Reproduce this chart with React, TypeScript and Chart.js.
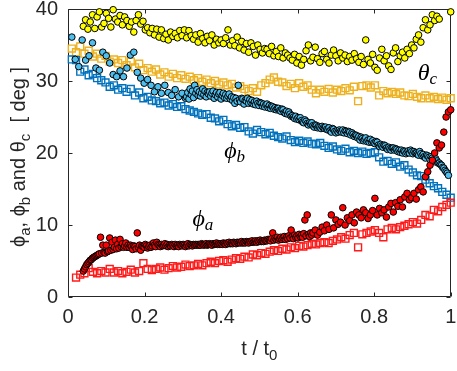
import React, { useEffect, useRef } from 'react';
import { Chart, registerables } from 'chart.js';
Chart.register(...registerables);

const xTicks = [0, 0.2, 0.4, 0.6, 0.8, 1];
const yTicks = [0, 10, 20, 30, 40];

// sampling of the measurements (t / t0)
const thetaStart = 0.04;
const thetaStep = 0.006;
const phiAEarlyStart = 0.04;
const phiALateStart = 0.64;
const phiBEarlyStart = 0.01;
const phiBLateStart = 0.31;
const denseStep = 0.003;
const mediumStep = 0.006;
const sparseStep = 0.009;
const squareStart = 0.01;
const squareStep = 0.011;

// theta_c (yellow circles)
const thetaC = [
  37.6, 38.5, 37.2, 38.2, 39.2, 37.3, 38.9, 39.6, 37.5, 38.0,
  39.4, 38.7, 37.5, 39.9, 38.6, 38.2, 39.1, 37.8, 38.9, 38.4,
  37.6, 38.2, 36.8, 38.4, 39.2, 37.9, 38.3, 37.1, 37.4, 36.7,
  37.3, 36.4, 37.2, 36.1, 37.1, 35.9, 36.5, 35.7, 36.8, 36.2,
  36.6, 36.0, 37.0, 36.3, 37.1, 36.0, 37.0, 36.3, 35.8, 36.4,
  35.4, 36.6, 35.9, 35.3, 36.2, 35.6, 36.4, 35.0, 35.8, 35.3,
  35.7, 35.2, 36.0, 37.1, 35.0, 35.6, 34.9, 36.1, 34.6, 35.5,
  34.3, 35.2, 34.0, 35.3, 34.8, 33.6, 35.0, 34.4, 33.9, 34.5,
  34.4, 33.8, 34.8, 33.5, 34.1, 33.4, 34.6, 33.2, 33.9, 33.6,
  33.2, 32.9, 33.7, 32.5, 33.4, 32.2, 33.0, 34.2, 35.0, 32.8,
  33.3, 34.7, 33.1, 32.6, 33.8, 34.1, 33.0, 32.5, 33.6, 34.3,
  33.5, 32.8, 33.9, 33.2, 33.6, 32.7, 33.4, 32.9, 33.8, 33.1,
  32.6, 33.4, 32.3, 35.7, 33.0, 32.5, 33.7, 31.9, 31.5, 33.2,
  34.4, 32.8, 33.5, 32.1, 31.6, 33.9, 34.6, 32.7, 33.5, 34.0,
  33.2, 34.4, 33.8, 35.0, 34.6, 35.8, 36.4, 35.4, 37.4, 38.5,
  37.1, 37.8, 39.2, 38.4, 39.0, 38.6, null, null, null, null, 39.6,
];

// phi_b (blue circles), early sparse part
const phiBEarly = [
  36.1, 33.0, 32.0, 35.7, 32.9, 33.5, 35.3, 31.8, 31.5, 34.0,
  33.5, 32.5, 30.9, 30.6, 31.4, 30.6, 31.8, 33.6, 34.0, 31.2,
  30.4, 29.7, 30.2, 29.4, 28.5, 29.2, 28.3, 29.4, 28.4, 28.0,
  28.8, 27.8, 28.3, 27.6,
];

// phi_b (blue circles), dense part
const phiBLate = [
  27.8, 28.4, 27.5, 28.9, 28.1, 28.6, 27.7, 29.4, 28.3, 28.8, 28.0, 28.5, 27.9, 28.3, 28.9, 28.1, 28.6, 27.8, 28.4, 28.2,
  28.5, 27.9, 28.3, 28.6, 27.6, 28.1, 28.4, 27.8, 28.2, 28.4, 27.5, 28.0, 28.3, 27.7, 28.1, 27.6, 27.9, 28.2, 27.5, 27.8,
  27.3, 27.7, 26.9, 27.6, 27.2, 29.4, 27.4, 27.1, 27.6, 27.5, 26.8, 27.3, 27.2, 27.6, 26.9, 27.4, 27.0, 27.3, 26.8, 27.1,
  26.7, 27.2, 26.9, 26.6, 27.0, 26.9, 26.5, 26.8, 26.4, 26.7, 26.8, 26.3, 26.6, 26.2, 26.5, 26.4, 26.1, 26.3, 26.0, 26.2,
  26.2, 25.9, 25.8, 26.1, 26.0, 25.6, 25.5, 25.8, 25.4, 25.7, 25.4, 25.1, 25.2, 25.0, 24.8, 25.1, 24.7, 24.9, 24.6, 24.9,
  24.5, 24.3, 24.2, 24.6, 24.4, 24.1, 23.9, 24.2, 24.0, 24.2, 23.8, 23.6, 23.9, 23.8, 23.5, 23.7, 23.6, 23.4, 23.7, 23.5,
  23.4, 23.6, 23.3, 23.2, 23.5, 23.1, 22.9, 23.4, 23.3, 23.0, 22.8, 23.1, 22.9, 23.2, 23.0, 22.9, 23.2, 22.8, 23.1, 23.0,
  22.7, 23.0, 22.9, 22.5, 22.8, 22.6, 22.3, 22.5, 22.4, 22.1, 22.3, 21.8, 22.2, 22.0, 21.7, 21.9, 22.1, 21.6, 21.8, 21.5,
  21.9, 21.5, 21.7, 21.4, 21.3, 21.6, 21.5, 21.1, 20.9, 21.2, 21.0, 20.8, 21.1, 21.0, 20.7, 20.5, 20.8, 20.6, 20.4, 20.7,
  20.7, 20.4, 20.6, 20.5, 20.2, 20.4, 20.1, 20.4, 20.0, 20.3, 20.2, 19.9, 20.1, 20.3, 20.0, 20.4, 20.2, 19.9, 20.2, 20.0,
  20.0, 19.8, 19.7, 20.2, 19.9, 19.6, 19.8, 19.5, 19.3, 19.7, 19.6, 19.4, 19.1, 19.5, 19.3, 19.0, 18.8, 19.2, 18.9, 18.6,
  18.6, 18.4, 18.3, 18.0, 17.9, 17.6, 17.4, 17.2, 16.9,
];

// phi_a (red circles), dense part
const phiAEarly = [
  3.6, 3.9, 4.2, 4.5, 4.7, 4.9, 5.1, 5.2, 5.4, 5.5, 5.6, 5.7, 5.8, 5.9, 6.0, 8.3, 6.1, 7.2, 6.2, 6.1,
  7.2, 6.3, 6.4, 8.2, 6.5, 7.6, 6.6, 6.9, 7.9, 6.7, 7.3, 6.8, 8.0, 7.0, 7.4, 6.9, 7.1, 7.5, 6.9, 7.2,
  6.9, 7.2, 7.0, 6.6, 7.1, 7.0, 6.7, 8.9, 6.9, 7.2, 6.5, 7.1, 7.0, 6.9, 7.3, 7.1, 6.8, 7.0, 7.2, 6.9,
  7.1, 7.5, 7.2, 7.0, 7.6, 7.3, 7.2, 7.0, 7.3, 7.1, 7.2, 7.4, 7.1, 7.3, 7.0, 7.2, 7.1, 7.3, 7.2, 7.0,
  7.3, 7.1, 7.2, 7.0, 7.3, 7.2, 7.1, 7.3, 7.2, 7.0, 7.2, 7.4, 7.1, 7.3, 7.2, 7.1, 7.3, 7.2, 7.3, 7.2,
  7.3, 7.2, 7.2, 7.4, 7.3, 7.2, 7.3, 7.4, 7.2, 7.3, 7.4, 7.3, 7.2, 7.4, 7.3, 7.4, 7.5, 7.3, 7.4, 7.3,
  7.4, 7.3, 7.5, 7.4, 7.3, 7.5, 7.4, 7.6, 7.4, 7.5, 7.4, 7.6, 7.5, 7.4, 7.6, 7.5, 7.6, 7.5, 7.7, 7.5,
  7.6, 7.5, 7.7, 7.6, 7.5, 7.7, 7.6, 7.8, 7.6, 7.7, 7.8, 7.6, 7.8, 7.7, 7.9, 7.7, 7.8, 7.7, 7.9, 7.8,
  7.8, 8.0, 7.9, 7.8, 8.1, 8.9, 7.9, 8.2, 8.0, 8.3, 7.9, 8.1, 8.3, 8.0, 8.2, 8.4, 8.0, 8.3, 8.1, 8.5,
  8.2, 9.3, 8.4, 8.1, 8.6, 8.3, 8.5, 8.2, 8.7, 8.4, 8.6, 8.3, 8.8, 10.7, 8.5, 11.4, 8.7, 8.4, 8.9, 8.6,
];

// phi_a (red circles), scattered late part
const phiALate = [
  8.9, 9.3, 8.6, 9.0, 9.7, 9.2, 10.0, 9.4, 11.4, 9.6,
  10.7, 10.1, 10.4, 12.4, 10.0, 11.0, 10.6, 11.4, 10.3, 11.8,
  11.4, 11.0, 12.1, 11.7, 10.9, 11.4, 12.0, 13.7, 11.4, 12.3,
  11.7, 12.1, 11.1, 12.5, 13.0, 11.8, 13.1, 12.6, 13.5, 12.5,
  13.9, 14.4, 13.5, 13.8, 14.4, 13.6, 14.9, 15.3, 14.6, 16.7,
  17.4, 18.3, 19.0, 20.0, 21.4, 20.7, 21.1, 22.9, 25.0, 25.7, 26.0,
];

// orange squares
const orangeSq = [
  34.5, 34.0, 34.8, 33.8, 34.2, 33.4, 33.8, 33.1, 33.5, 32.7,
  33.0, 32.5, 32.9, 32.2, 32.7, 31.9, 32.4, 31.5, 31.8, 31.3,
  31.6, 30.9, 31.2, 30.6, 31.0, 30.4, 30.8, 30.3, 30.6, 30.1,
  30.4, 29.9, 30.2, 29.7, 30.0, 29.5, 29.8, 29.4, 29.6, 29.1,
  29.3, 28.9, 28.6, 29.0, 28.5, 29.4, 29.7, 30.2, 30.5, 29.9,
  29.8, 29.3, 29.6, 29.0, 29.7, 29.2, 29.4, 28.8, 28.3, 28.8,
  28.5, 28.9, 28.4, 28.8, 28.6, 29.0, 28.7, 29.2, 27.2, 29.3,
  29.4, 29.1, 29.4, 28.0, 28.6, 28.3, 28.5, 28.2, 28.4, 28.0,
  27.9, 28.2, 27.8, 27.6, 28.0, 27.6, 27.8, 27.5, 27.7, 27.4, 27.6,
];

// blue squares
const blueSq = [
  33.0, 32.9, 31.3, 31.6, 30.8, 31.0, 30.4, 30.1, 29.8, 29.2,
  29.4, 28.8, 29.0, 28.5, 28.9, 28.0, 28.4, 27.6, 27.8, 27.3,
  27.2, 26.9, 27.0, 26.6, 26.8, 26.4, 26.5, 26.1, 25.9, 25.7,
  25.5, 25.3, 25.4, 24.9, 24.8, 24.4, 24.6, 24.0, 23.7, 23.9,
  23.5, 23.6, 23.0, 22.7, 23.2, 22.9, 22.6, 22.8, 22.4, 22.2,
  22.0, 22.3, 21.8, 21.5, 21.7, 21.4, 21.6, 21.3, 21.2, 21.4,
  21.0, 20.7, 20.9, 20.5, 20.3, 20.6, 20.1, 20.3, 20.0, 20.2,
  19.9, 20.0, 20.1, 19.4, 18.8, 18.9, 18.5, 18.7, 18.1, 18.3,
  17.7, 17.3, 16.9, 16.8, 16.3, 15.8, 15.4, 15.1, 14.6, 14.2, 13.8,
];

// red squares
const redSq = [
  null, 2.7, 3.1, 3.3, 4.0, 3.5, 3.3, 3.6, 3.4, 3.9,
  3.4, 3.6, 3.3, 3.5, 3.8, 3.4, 3.6, 4.7, 3.9, 3.75,
  3.9, 4.1, 3.8, 4.0, 4.3, 4.1, 4.2, 4.5, 4.3, 4.4,
  4.6, 4.4, 4.7, 4.9, 4.7, 5.0, 5.1, 4.9, 5.2, 5.4,
  5.3, 5.6, 5.5, 5.9, 5.8, 6.1, 6.0, 6.3, 6.5, 6.4,
  6.7, 6.6, 6.9, 6.8, 7.1, 7.0, 7.2, 7.4, 7.3, 7.5,
  7.6, 7.5, 7.8, 8.0, 8.3, 8.1, 8.6, 8.9, 6.9, 8.7,
  8.9, 9.1, 9.3, 8.9, 8.3, 9.4, 9.6, 9.4, 9.7, 9.9,
  10.1, 10.4, 10.2, 10.7, 11.4, 11.2, 12.1, 11.9, 12.5, 12.8, 13.1,
];

// curve labels: [main, subscript, x, y(baseline)]
const curveLabels: [string, string, number, number][] = [
  ['θ', 'c', 0.914, 30.1],
  ['ϕ', 'b', 0.408, 19.3],
  ['ϕ', 'a', 0.325, 9.85],
];

const SANS = "'Liberation Sans', Arial, Helvetica, sans-serif";
const SERIF = "'Liberation Serif', 'DejaVu Serif', serif";
const AXIS_COLOR = '#262626';

function toPoints(vals: (number | null)[], start: number, step: number) {
  const pts: { x: number; y: number }[] = [];
  vals.forEach((v, i) => {
    if (v !== null) pts.push({ x: +(start + i * step).toFixed(4), y: v });
  });
  return pts;
}

function drawRich(ctx: CanvasRenderingContext2D, parts: { t: string; font: string; dy: number }[], x: number, y: number, align: 'left' | 'center') {
  let total = 0;
  for (const p of parts) {
    ctx.font = p.font;
    total += ctx.measureText(p.t).width;
  }
  let cx = align === 'center' ? x - total / 2 : x;
  ctx.textAlign = 'left';
  ctx.textBaseline = 'alphabetic';
  for (const p of parts) {
    ctx.font = p.font;
    ctx.fillText(p.t, cx, y + p.dy);
    cx += ctx.measureText(p.t).width;
  }
}

const axesPlugin = {
  id: 'matlabAxes',
  beforeDatasetsDraw(chart: any) {
    const { ctx, chartArea: a, scales } = chart;
    ctx.save();
    ctx.strokeStyle = AXIS_COLOR;
    ctx.lineWidth = 1;
    const L = Math.round(a.left) + 0.5, R = Math.round(a.right) - 0.5;
    const T = Math.round(a.top) + 0.5, B = Math.round(a.bottom) - 0.5;
    ctx.beginPath();
    ctx.rect(L, T, R - L, B - T);
    const tl = 4;
    xTicks.forEach((v) => {
      const px = Math.round(scales.x.getPixelForValue(v)) + 0.5;
      ctx.moveTo(px, B); ctx.lineTo(px, B - tl);
      ctx.moveTo(px, T); ctx.lineTo(px, T + tl);
    });
    yTicks.forEach((v) => {
      const py = Math.round(scales.y.getPixelForValue(v)) + 0.5;
      ctx.moveTo(L, py); ctx.lineTo(L + tl, py);
      ctx.moveTo(R, py); ctx.lineTo(R - tl, py);
    });
    ctx.stroke();
    ctx.restore();
  },
  afterDraw(chart: any) {
    const { ctx, chartArea: a, scales } = chart;
    ctx.save();
    ctx.fillStyle = AXIS_COLOR;
    // x title
    drawRich(ctx, [
      { t: 't / t', font: `20px ${SANS}`, dy: 0 },
      { t: '0', font: `15px ${SANS}`, dy: 5 },
    ], (a.left + a.right) / 2, 355, 'center');
    // y title
    ctx.translate(25, (a.top + a.bottom) / 2 + 4);
    ctx.rotate(-Math.PI / 2);
    const m = `20px ${SANS}`, s = `15px ${SANS}`;
    drawRich(ctx, [
      { t: 'ϕ', font: m, dy: 0 }, { t: 'a', font: s, dy: 5 },
      { t: ', ϕ', font: m, dy: 0 }, { t: 'b', font: s, dy: 5 },
      { t: ' and θ', font: m, dy: 0 }, { t: 'c', font: s, dy: 5 },
      { t: '  [ deg ]', font: m, dy: 0 },
    ], 0, 0, 'center');
    ctx.restore();
    // curve labels
    ctx.save();
    ctx.fillStyle = '#000000';
    curveLabels.forEach(([main, sub, x, y]) => {
      const px = scales.x.getPixelForValue(x);
      const py = scales.y.getPixelForValue(y);
      drawRich(ctx, [
        { t: main, font: `italic 24px ${SERIF}`, dy: 0 },
        { t: sub, font: `italic 17px ${SERIF}`, dy: 4 },
      ], px, py, 'left');
    });
    ctx.restore();
  },
};

export default function App() {
  const ref = useRef<HTMLCanvasElement>(null);
  useEffect(() => {
    const circle = (data: any, fill: string) => ({
      data, pointStyle: 'circle', pointRadius: 3.3, pointBackgroundColor: fill,
      pointBorderColor: '#000000', pointBorderWidth: 1, showLine: false, clip: false,
    });
    const square = (data: any, color: string) => ({
      data, pointStyle: 'rect', pointRadius: 4.9, pointBackgroundColor: 'rgba(255,255,255,0)',
      pointBorderColor: color, pointBorderWidth: 1.4, showLine: false, clip: false,
    });
    const phiAPts = [
      ...toPoints(phiAEarly, phiAEarlyStart, denseStep),
      ...toPoints(phiALate, phiALateStart, mediumStep),
    ];
    const phiBPts = [
      ...toPoints(phiBEarly, phiBEarlyStart, sparseStep),
      ...toPoints(phiBLate, phiBLateStart, denseStep),
    ];
    const chart = new Chart(ref.current!, {
      type: 'scatter',
      data: {
        datasets: [
          circle(phiAPts, '#ff0000'),
          circle(phiBPts, '#4dbeee'),
          circle(toPoints(thetaC, thetaStart, thetaStep), '#ffff00'),
          square(toPoints(redSq, squareStart, squareStep), '#ff1a1a'),
          square(toPoints(blueSq, squareStart, squareStep), '#0072bd'),
          square(toPoints(orangeSq, squareStart, squareStep), '#edb120'),
        ] as any,
      },
      options: {
        animation: false,
        responsive: false,
        events: [],
        layout: { padding: { top: 9, right: 4, left: 0, bottom: 0 } },
        plugins: { legend: { display: false }, tooltip: { enabled: false } },
        scales: {
          x: {
            type: 'linear', min: 0, max: 1,
            grid: { display: false, drawTicks: false },
            border: { display: false },
            afterBuildTicks: (sc: any) => { sc.ticks = xTicks.map((v) => ({ value: v })); },
            afterFit: (sc: any) => { sc.height = 74; sc.paddingLeft = 0; sc.paddingRight = 0; },
            ticks: {
              color: AXIS_COLOR, padding: 8, maxRotation: 0, autoSkip: false,
              font: { family: SANS, size: 20 },
              callback: (v: any) => String(+Number(v).toFixed(1)),
            },
          },
          y: {
            type: 'linear', min: 0, max: 40,
            grid: { display: false, drawTicks: false },
            border: { display: false },
            afterBuildTicks: (sc: any) => { sc.ticks = yTicks.map((v) => ({ value: v })); },
            afterFit: (sc: any) => { sc.width = 68; sc.paddingTop = 0; sc.paddingBottom = 0; },
            ticks: {
              color: AXIS_COLOR, padding: 10, autoSkip: false,
              font: { family: SANS, size: 20 },
              callback: (v: any) => String(v),
            },
          },
        },
      },
      plugins: [axesPlugin],
    });
    return () => chart.destroy();
  }, []);
  return (
    <div style={{ position: 'fixed', left: 0, top: 0, width: 457, height: 371, background: '#ffffff' }}>
      <canvas ref={ref} width={457} height={371} style={{ width: 457, height: 371 }} />
    </div>
  );
}
